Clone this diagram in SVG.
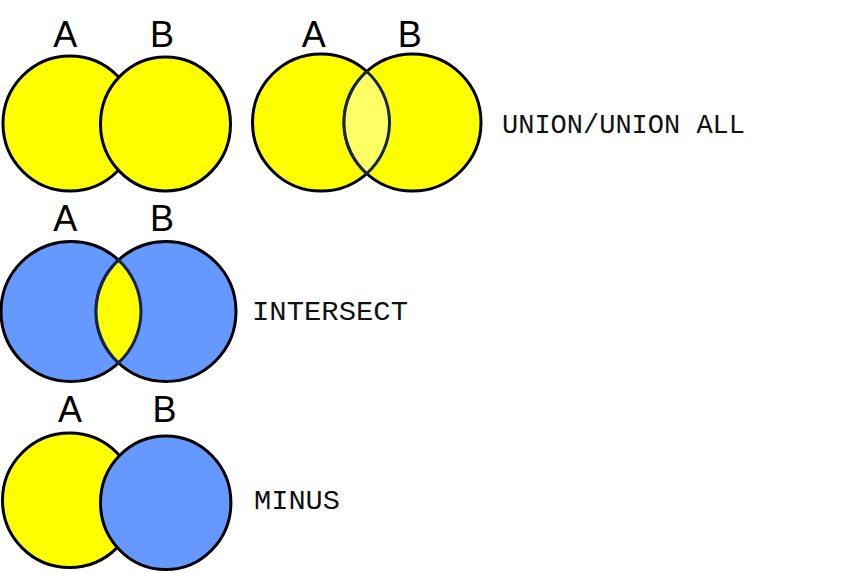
<svg xmlns="http://www.w3.org/2000/svg" width="846" height="573" viewBox="0 0 846 573">
<style>
.y{fill:#FFFF00;stroke:#000;stroke-width:3}
.b{fill:#6699FF;stroke:#000;stroke-width:3}
.lens{stroke:#14244f;stroke-width:3}
.lt{font-family:"Liberation Sans",Arial,sans-serif;font-size:36px;fill:#000;text-anchor:middle}
.op{font-family:"Liberation Mono","Courier New",monospace;font-size:27px;fill:#111}
</style>
<rect width="846" height="573" fill="#fff"/>
<g id="row1-left">
  <ellipse class="y" cx="70" cy="123.5" rx="67" ry="67.5"/>
  <ellipse class="y" cx="165.5" cy="124" rx="65" ry="67"/>
  <text class="lt" x="65.3" y="46.7">A</text>
  <text class="lt" x="162" y="46.7">B</text>
</g>
<g id="row1-right">
  <circle class="y" cx="321" cy="122.5" r="68.5"/>
  <circle class="y" cx="412.5" cy="122.5" r="68.5"/>
  <path class="lens" fill="#FFFF66" d="M366.75 71.5 A68.5 68.5 0 0 1 366.75 173.5 A68.5 68.5 0 0 1 366.75 71.5 Z"/>
  <text class="lt" x="313.7" y="46.7">A</text>
  <text class="lt" x="409.8" y="46.7">B</text>
</g>
<g id="union">
  <text class="op" x="502" y="132.5" textLength="243" lengthAdjust="spacingAndGlyphs">UNION/UNION ALL</text>
</g>
<g id="row2">
  <circle class="b" cx="71" cy="311.5" r="70"/>
  <circle class="b" cx="166" cy="311.5" r="70"/>
  <path class="lens" fill="#FFFF00" d="M118.5 260.1 A70 70 0 0 1 118.5 362.9 A70 70 0 0 1 118.5 260.1 Z"/>
  <text class="lt" x="65.3" y="230.7">A</text>
  <text class="lt" x="162" y="230.7">B</text>
</g>
<g id="intersect">
  <text class="op" x="252" y="320" textLength="156" lengthAdjust="spacingAndGlyphs">INTERSECT</text>
</g>
<g id="row3">
  <ellipse class="y" cx="69.5" cy="500.3" rx="67" ry="67.2"/>
  <ellipse class="b" cx="165.7" cy="502.7" rx="65.2" ry="66.8"/>
  <text class="lt" x="70" y="421.7">A</text>
  <text class="lt" x="164.5" y="421.7">B</text>
</g>
<g id="minus">
  <text class="op" x="254" y="509.3" textLength="86" lengthAdjust="spacingAndGlyphs">MINUS</text>
</g>
<g id="connectors"></g>
</svg>
